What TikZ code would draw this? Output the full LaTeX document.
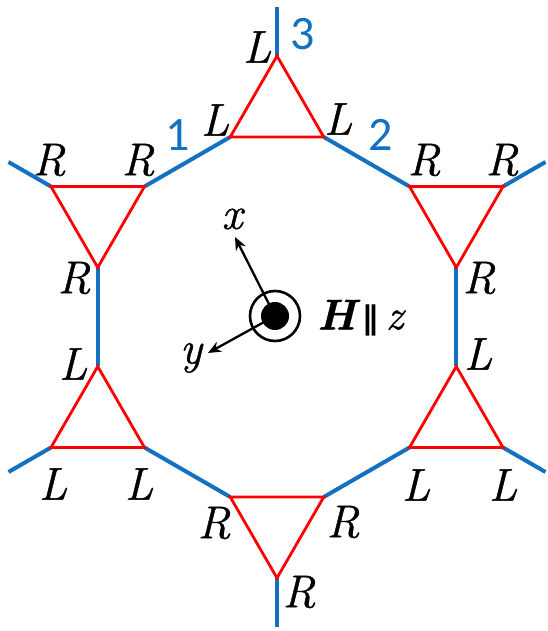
\documentclass[tikz,border=0pt]{standalone}
\usepackage{fontspec}
\newfontfamily\numfont{Carlito}
\newfontfamily\symf{DejaVu Sans}
\newfontfamily\labf{Latin Modern Roman}[FakeBold=0.9]
\usetikzlibrary{calc,arrows.meta}
\definecolor{hexblue}{RGB}{20,112,192}
\definecolor{trired}{RGB}{255,0,0}
\newcommand{\labfont}{\labf\fontsize{46}{50}\selectfont\itshape}
\tikzset{
  bluebond/.style={draw=hexblue,line width=4pt},
  redtri/.style={draw=trired,line width=2.8pt,line join=miter},
  lab/.style={font=\labfont,inner sep=0pt},
  numlab/.style={font=\numfont\fontsize{48}{52}\selectfont,text=hexblue,inner sep=0pt},
  axis/.style={draw=black,line width=2.3pt,-{Stealth[length=13pt,width=11pt]}}
}
\begin{document}
\begin{tikzpicture}[x=1pt,y=1pt]
\useasboundingbox (0,0) rectangle (548,631);
\coordinate (C) at (277,314);
% triangle vertices and outer stubs
\foreach \a in {30,90,150,210,270,330} {
  \coordinate (G\a) at ($(C)+(\a:207)$);
  \coordinate (V\a o) at ($(G\a)+(\a:54)$);
  \coordinate (V\a p) at ($(G\a)+(\a+120:54)$);
  \coordinate (V\a m) at ($(G\a)+(\a-120:54)$);
  \coordinate (S\a) at ($(V\a o)+(\a:49)$);
}
% blue bonds
\foreach \a in {30,90,150,210,270,330} {
  \draw[bluebond] (V\a o) -- (S\a);
}
\foreach \a/\b in {30/330,90/30,150/90,210/150,270/210,330/270} {
  \draw[bluebond] (V\a m) -- (V\b p);
}
% red triangles
\foreach \a in {30,90,150,210,270,330} {
  \draw[redtri] (V\a o) -- (V\a p) -- (V\a m) -- cycle;
}
% labels
\node[lab] (l1) at (257,584) {L};
\node[lab] (l2) at (215,511) {L};
\node[lab] (l3) at (338,512) {L};
\node[numlab] (n3) at (303,597) {3};
\node[numlab] (n1) at (178,496) {1};
\node[numlab] (n2) at (381,496) {2};
\node[lab] (r1) at (49,471) {R};
\node[lab] (r2) at (138,471) {R};
\node[lab] (r3) at (74,353) {R};
\node[lab] (r4) at (424,471) {R};
\node[lab] (r5) at (502,471) {R};
\node[lab] (r6) at (479,353) {R};
\node[lab] (l4) at (73,267) {L};
\node[lab] (l5) at (53,147) {L};
\node[lab] (l6) at (139,147) {L};
\node[lab] (l7) at (478,277) {L};
\node[lab] (l8) at (416,146) {L};
\node[lab] (l9) at (503,146) {L};
\node[lab] (r7) at (214,108) {R};
\node[lab] (r8) at (343,109) {R};
\node[lab] (r9) at (299,39) {R};
% axes
\coordinate (O) at (275,315);
\coordinate (xt) at (235,394);
\coordinate (yt) at (208,278);
\draw[axis] (O) -- (xt);
\draw[axis] (O) -- (yt);
\node[lab] (xl) at (232,412) {x};
\node[lab] (yl) at (191,273) {y};
\draw[line width=2.6pt] (O) circle (25);
\fill (O) circle (14);
\node[lab,anchor=west,font=\labf\fontsize{43}{46}\selectfont\itshape] (hz) at (317,313) {\bfseries H\,{\upshape\symf\bfseries\fontsize{32}{32}\selectfont ∥}\,\mdseries z};
\end{tikzpicture}
\end{document}
